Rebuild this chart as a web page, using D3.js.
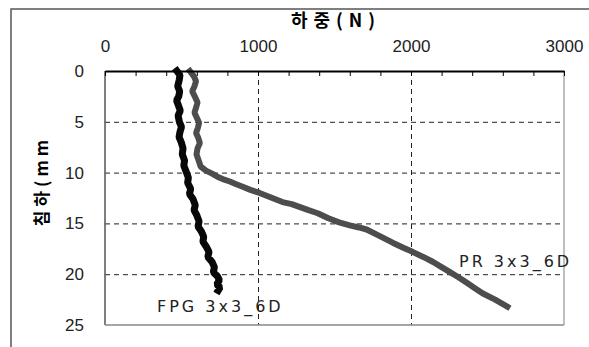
<!DOCTYPE html>
<html>
<head>
<meta charset="utf-8">
<script src="https://cdn.jsdelivr.net/npm/d3@7"></script>
<style>
	body { margin: 0; background: #fff; }
	svg { display: block; font-family: "Liberation Sans", "DejaVu Sans", sans-serif; }
	.grid line { stroke: #222; stroke-dasharray: 5,4; }
	.tick text { fill: #222; }
</style>
</head>
<body>
<svg id="chart" width="589" height="347"></svg>
<script>
const Width = 589;
const Height = 347;

// load (N) vs settlement (mm)
const fpgLoad = [470, 490, 485, 475, 488, 482, 468, 480, 492, 478, 486, 500, 490, 484, 498, 510, 505, 520, 515, 530, 545, 540, 560, 552, 575, 590, 582, 600, 615, 608, 630, 645, 640, 662, 680, 672, 700, 715, 708, 735, 748, 730, 752, 740];
const fpgSettle = [0, 0.4, 0.9, 1.5, 2.0, 2.5, 2.9, 3.4, 3.9, 4.4, 5.0, 5.5, 6.0, 6.5, 7.0, 7.6, 8.2, 8.8, 9.3, 9.9, 10.5, 11.0, 11.6, 12.1, 12.6, 13.2, 13.7, 14.2, 14.8, 15.3, 15.8, 16.3, 16.8, 17.3, 17.8, 18.3, 18.8, 19.3, 19.8, 20.2, 20.6, 21.0, 21.3, 21.6];
const prLoad = [555, 580, 595, 585, 570, 590, 605, 595, 585, 600, 615, 607, 595, 610, 620, 605, 598, 612, 625, 660, 700, 735, 780, 820, 850, 900, 950, 1010, 1060, 1110, 1160, 1220, 1275, 1330, 1390, 1460, 1530, 1600, 1660, 1710, 1790, 1880, 1950, 2010, 2080, 2145, 2200, 2255, 2310, 2370, 2420, 2470, 2550, 2630];
const prSettle = [0, 0.5, 1.0, 1.5, 2.0, 2.6, 3.1, 3.6, 4.1, 4.6, 5.1, 5.6, 6.1, 6.6, 7.1, 7.6, 8.2, 8.8, 9.4, 9.8, 10.1, 10.4, 10.7, 10.9, 11.1, 11.4, 11.7, 12.0, 12.3, 12.6, 12.9, 13.1, 13.4, 13.7, 14.0, 14.5, 14.9, 15.2, 15.4, 15.6, 16.2, 16.9, 17.4, 17.8, 18.3, 18.8, 19.3, 19.8, 20.3, 20.9, 21.4, 21.9, 22.5, 23.2];
const xTicks = [0, 1000, 2000, 3000];
const yTicks = [0, 5, 10, 15, 20, 25];
const xTitle = "하중(N)";
const yTitle = "침하(mm";
const fpgName = "FPG 3x3_6D";
const prName = "PR 3x3_6D";

const chart = d3.select("#chart");

// outer frame, runs off the right and bottom of the picture
chart.append("rect").attr("x", 11).attr("y", 9).attr("width", 700).attr("height", 500)
	.attr("fill", "none").attr("stroke", "#555").attr("stroke-width", 1.5);

const x = d3.scaleLinear().domain([0, 3000]).range([105, 564]);
const y = d3.scaleLinear().domain([0, 25]).range([71, 325]);

// dashed grid
const xgrid = chart.append("g").attr("class", "grid").attr("transform", `translate(0,${y(0)})`)
	.call(d3.axisBottom(x).tickValues([1000, 2000]).tickSize(y(25) - y(0)).tickFormat(""));
xgrid.select(".domain").remove();
const ygrid = chart.append("g").attr("class", "grid").attr("transform", `translate(${x(0)},0)`)
	.call(d3.axisRight(y).tickValues([5, 10, 15, 20]).tickSize(x(3000) - x(0)).tickFormat(""));
ygrid.select(".domain").remove();

// plot borders
chart.append("line").attr("x1", x(0)).attr("x2", x(0)).attr("y1", y(0)).attr("y2", y(25)).attr("stroke", "#555").attr("stroke-width", 1.5);
chart.append("line").attr("x1", x(0)).attr("x2", x(3000)).attr("y1", y(25)).attr("y2", y(25)).attr("stroke", "#888").attr("stroke-width", 1.5);
chart.append("line").attr("x1", x(3000)).attr("x2", x(3000)).attr("y1", y(0)).attr("y2", y(25)).attr("stroke", "#aaa").attr("stroke-width", 1.5);

// series, thick jagged strokes
const line = d3.line().x(d => x(d[0])).y(d => y(d[1]));
const series = [
	{ pts: d3.zip(prLoad, prSettle), color: "#4d4d4d", w: 6 },
	{ pts: d3.zip(fpgLoad, fpgSettle), color: "#080808", w: 7 }
];
series.forEach(s => {
	chart.append("path").attr("d", line(s.pts)).attr("fill", "none")
		.attr("stroke", s.color).attr("stroke-width", s.w)
		.attr("stroke-linejoin", "bevel").attr("stroke-linecap", "square");
});

// top axis: inward minor ticks, then labels
const inner = chart.append("g").attr("transform", `translate(0,${y(0)})`)
	.call(d3.axisBottom(x).tickValues(d3.range(0, 3001, 200)).tickSize(5).tickFormat("").tickSizeOuter(0));
inner.select(".domain").attr("stroke", "#000").attr("stroke-width", 2);
inner.selectAll(".tick line").attr("stroke", "#000");

const xaxis = chart.append("g").attr("class", "x axis").attr("transform", `translate(0,${y(0) - 25})`)
	.call(d3.axisTop(x).tickValues(xTicks).tickSize(0).tickPadding(0).tickFormat(d3.format("d")));
xaxis.select(".domain").remove();
xaxis.selectAll("text").attr("font-size", 17).attr("dy", "0.35em");

const yaxis = chart.append("g").attr("class", "y axis").attr("transform", `translate(${x(0) - 21},0)`)
	.call(d3.axisLeft(y).tickValues(yTicks).tickSize(0).tickPadding(0));
yaxis.select(".domain").remove();
yaxis.selectAll("text").attr("font-size", 17);

// titles
chart.append("text").attr("x", 336).attr("y", 27).attr("text-anchor", "middle")
	.attr("font-family", "'Noto Sans CJK KR', sans-serif").attr("font-weight", "bold")
	.attr("font-size", 18).attr("letter-spacing", 6).text(xTitle);
chart.append("text").attr("transform", "translate(48,181) rotate(-90)").attr("text-anchor", "middle")
	.attr("font-family", "'Noto Sans CJK KR', sans-serif").attr("font-weight", "bold")
	.attr("font-size", 17).attr("letter-spacing", 4).text(yTitle);

// series labels
chart.append("text").attr("x", 157).attr("y", 312).attr("font-family", "'DejaVu Sans', sans-serif")
	.attr("font-size", 16).attr("letter-spacing", 3).attr("fill", "#222").text(fpgName);
chart.append("text").attr("x", 459).attr("y", 267).attr("font-family", "'DejaVu Sans', sans-serif")
	.attr("font-size", 16).attr("letter-spacing", 3).attr("fill", "#222").text(prName);
</script>
</body>
</html>
